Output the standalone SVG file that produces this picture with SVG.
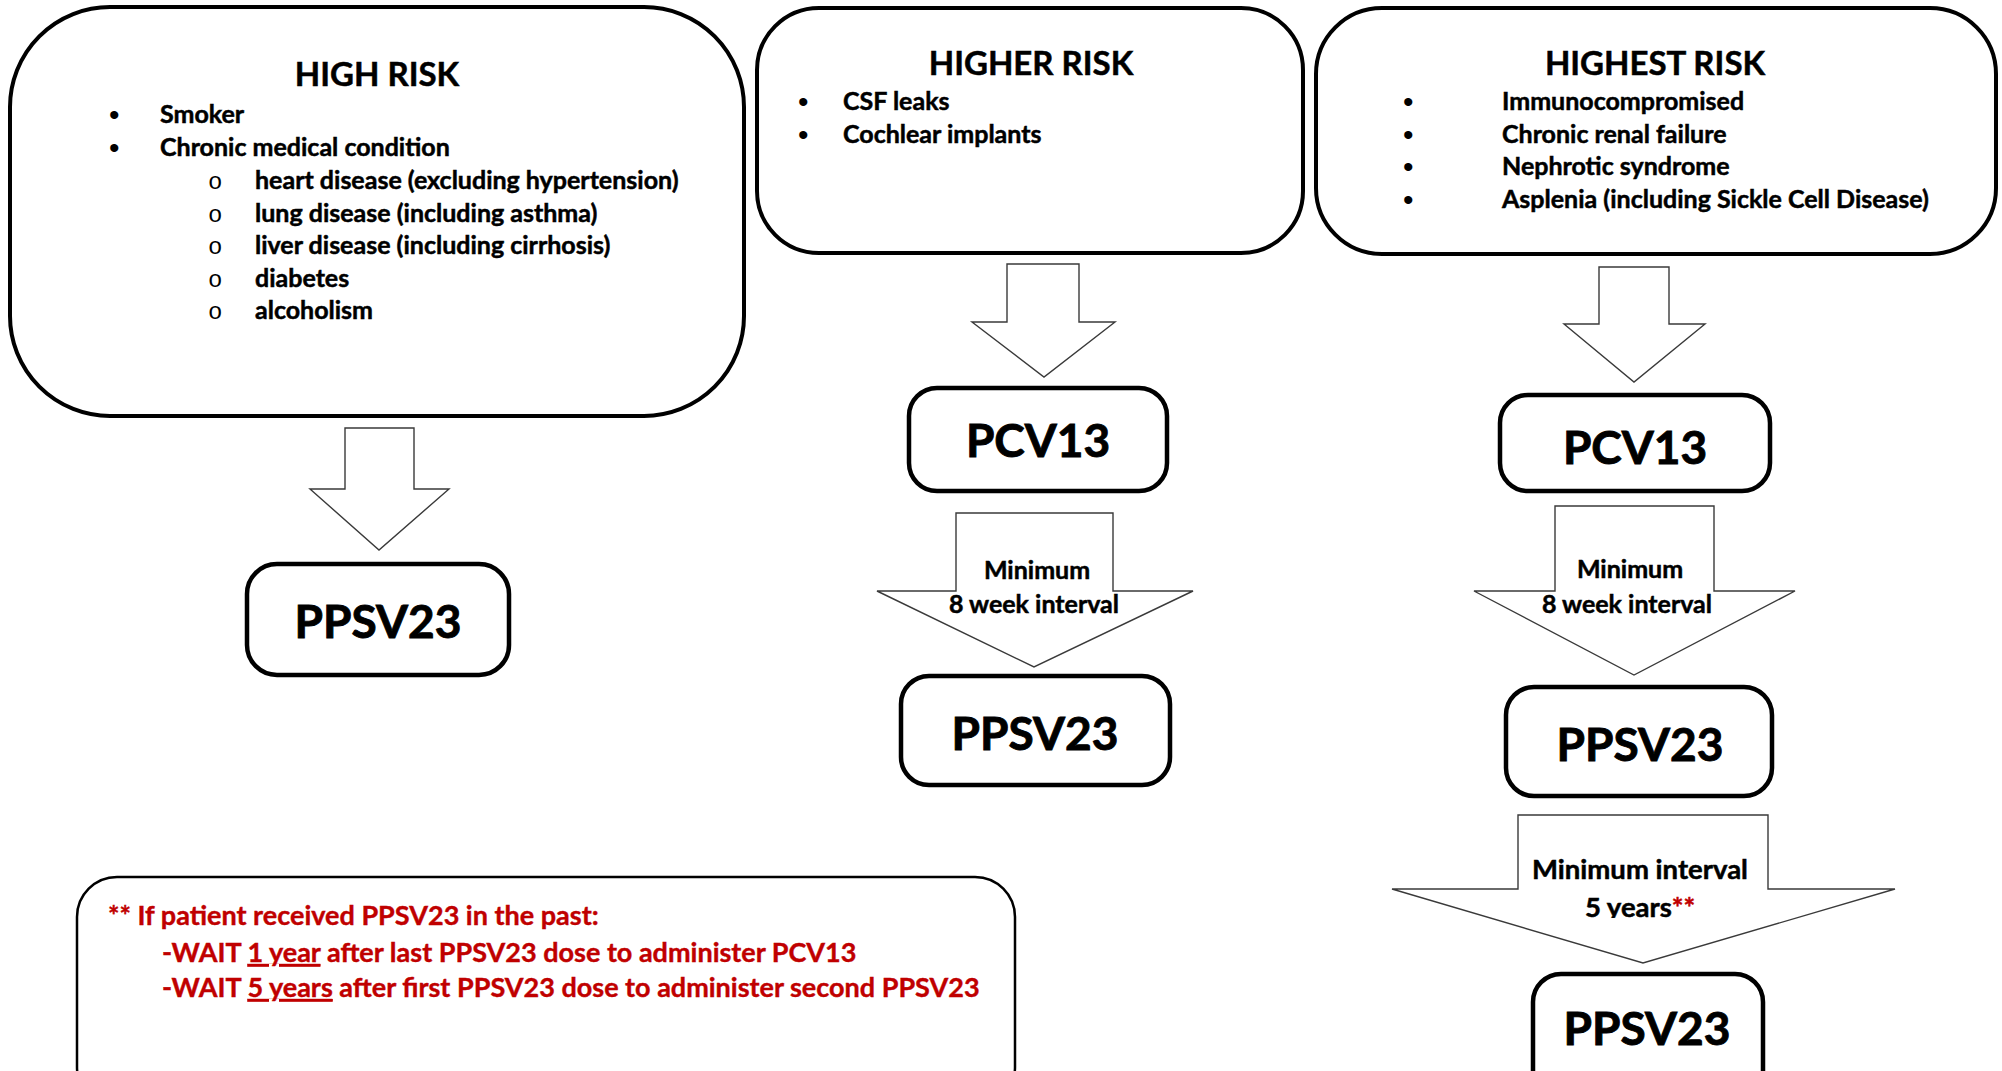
<svg xmlns="http://www.w3.org/2000/svg" width="2002" height="1071" viewBox="0 0 2002 1071">
<style>
.box{fill:#fff;stroke:#000;stroke-width:4}
.vbox{fill:#fff;stroke:#000;stroke-width:4.5}
.arrow{fill:#fff;stroke:#3a3a3a;stroke-width:1.4;stroke-linejoin:miter}
.t{font-family:Lato,"Open Sans",sans-serif;font-weight:bold;fill:#000;stroke:#000;stroke-width:0.5}
.title{font-size:33px;text-anchor:middle}
.body{font-size:25px}
.big{font-size:46px;text-anchor:middle;stroke-width:0.9}
.lbl{font-size:25px;text-anchor:middle}
.lbl2{font-size:27.5px;text-anchor:middle}
.bul{font-family:"Liberation Sans",sans-serif;font-size:30px;fill:#000}
.sub{font-family:"Liberation Mono",monospace;font-size:24px;fill:#000}
.red{font-family:Lato,"Open Sans",sans-serif;font-weight:bold;font-size:27px;fill:#c00000;stroke:#c00000;stroke-width:0.4}
</style>
<defs>
<clipPath id="clip5y"><rect x="1380" y="840" width="520" height="78"/></clipPath>
</defs>
<rect width="2002" height="1071" fill="#fff"/>

<g id="high-risk">
<rect class="box" x="10" y="7" width="734" height="409" rx="100" ry="100"/>
<text class="t title" x="377" y="86">HIGH RISK</text>
<text class="bul" x="109" y="125">•</text>
<text class="t body" x="160" y="123">Smoker</text>
<text class="bul" x="109" y="158">•</text>
<text class="t body" x="160" y="156">Chronic medical condition</text>
<text class="sub" x="208" y="189">o</text>
<text class="t body" x="255" y="189">heart disease (excluding hypertension)</text>
<text class="sub" x="208" y="222">o</text>
<text class="t body" x="255" y="222">lung disease (including asthma)</text>
<text class="sub" x="208" y="254">o</text>
<text class="t body" x="255" y="254">liver disease (including cirrhosis)</text>
<text class="sub" x="208" y="287">o</text>
<text class="t body" x="255" y="287">diabetes</text>
<text class="sub" x="208" y="319">o</text>
<text class="t body" x="255" y="319">alcoholism</text>
</g>

<g id="higher-risk">
<rect class="box" x="757" y="8" width="546" height="245" rx="62" ry="62"/>
<text class="t title" x="1031" y="75">HIGHER RISK</text>
<text class="bul" x="798" y="112">•</text>
<text class="t body" x="843" y="110">CSF leaks</text>
<text class="bul" x="798" y="145">•</text>
<text class="t body" x="843" y="143">Cochlear implants</text>
</g>

<g id="highest-risk">
<rect class="box" x="1316" y="8" width="680" height="246" rx="66" ry="66"/>
<text class="t title" x="1655" y="75">HIGHEST RISK</text>
<text class="bul" x="1403" y="112">•</text>
<text class="t body" x="1502" y="110">Immunocompromised</text>
<text class="bul" x="1403" y="145">•</text>
<text class="t body" x="1502" y="143">Chronic renal failure</text>
<text class="bul" x="1403" y="177">•</text>
<text class="t body" x="1502" y="175">Nephrotic syndrome</text>
<text class="bul" x="1403" y="210">•</text>
<text class="t body" x="1502" y="208">Asplenia (including Sickle Cell Disease)</text>
</g>

<g id="ppsv23-high">
<rect class="vbox" x="247" y="564" width="262" height="111" rx="30" ry="30"/>
<text class="t big" x="378" y="638">PPSV23</text>
</g>

<g id="pcv13-higher">
<rect class="vbox" x="909" y="388" width="258" height="103" rx="28" ry="28"/>
<text class="t big" x="1038" y="457">PCV13</text>
</g>

<g id="ppsv23-higher">
<rect class="vbox" x="901" y="676" width="269" height="109" rx="28" ry="28"/>
<text class="t big" x="1035" y="750">PPSV23</text>
</g>

<g id="pcv13-highest">
<rect class="vbox" x="1500" y="395" width="270" height="96" rx="28" ry="28"/>
<text class="t big" x="1635" y="464">PCV13</text>
</g>

<g id="ppsv23-highest-1">
<rect class="vbox" x="1506" y="687" width="266" height="109" rx="28" ry="28"/>
<text class="t big" x="1640" y="761">PPSV23</text>
</g>

<g id="ppsv23-highest-2">
<rect class="vbox" x="1533" y="974" width="230" height="130" rx="28" ry="28"/>
<text class="t big" x="1647" y="1045">PPSV23</text>
</g>

<g id="connectors">
<g id="arrow-high">
<polygon class="arrow" points="345,428 414,428 414,489 449,489 379,550 310,489 345,489"/>
</g>
<g id="arrow-higher-1">
<polygon class="arrow" points="1007,264 1079,264 1079,322 1115,322 1044,377 972,322 1007,322"/>
</g>
<g id="arrow-higher-2">
<polygon class="arrow" points="956,513 1113,513 1113,591 1193,591 1034,667 877,591 956,591"/>
<text class="t lbl" x="1037" y="579">Minimum</text>
<text class="t lbl" x="1034" y="613">8 week interval</text>
</g>
<g id="arrow-highest-1">
<polygon class="arrow" points="1599,267 1669,267 1669,324 1705,324 1634,382 1564,324 1599,324"/>
</g>
<g id="arrow-highest-2">
<polygon class="arrow" points="1555,506 1714,506 1714,591 1795,591 1634,675 1474,591 1555,591"/>
<text class="t lbl" x="1630" y="578">Minimum</text>
<text class="t lbl" x="1627" y="613">8 week interval</text>
</g>
<g id="arrow-highest-3">
<polygon class="arrow" points="1518,815 1768,815 1768,889 1895,889 1643,963 1392,889 1518,889"/>
<text class="t lbl2" x="1640" y="879">Minimum interval</text>
<text class="t lbl2" x="1640" y="917" clip-path="url(#clip5y)">5 years<tspan fill="#c00000" stroke="#c00000">**</tspan></text>
</g>
</g>

<g id="note">
<rect x="77" y="877" width="938" height="230" rx="40" ry="40" fill="#fff" stroke="#000" stroke-width="2.5"/>
<text class="red" x="108" y="925">** If patient received PPSV23 in the past:</text>
<text class="red" x="162" y="962">-WAIT <tspan text-decoration="underline">1 year</tspan> after last PPSV23 dose to administer PCV13</text>
<text class="red" x="162" y="997">-WAIT <tspan text-decoration="underline">5 years</tspan> after first PPSV23 dose to administer second PPSV23</text>
</g>
</svg>
